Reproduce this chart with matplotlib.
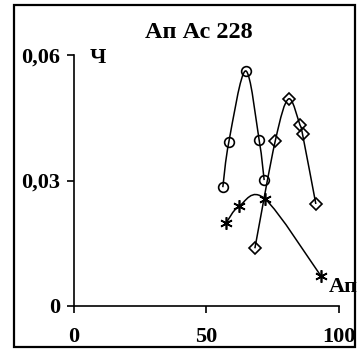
import matplotlib
matplotlib.use("Agg")
import matplotlib.pyplot as plt
from matplotlib.path import Path
from matplotlib.patches import PathPatch, Rectangle

# series values (x = percent, y = frequency)
circ_x = [56.2, 58.5, 64.8, 69.9, 71.8]
circ_y = [0.0284, 0.0393, 0.0562, 0.0397, 0.0301]

diam_x = [68.3, 76.0, 81.0, 85.3, 86.3, 91.3]
diam_y = [0.0138, 0.0395, 0.0495, 0.0433, 0.0410, 0.0244]

star_x = [57.4, 62.4, 72.1, 93.2]
star_y = [0.0198, 0.0239, 0.0256, 0.0072]

x_ticks = [0, 50, 100]
y_ticks = [0, 0.03, 0.06]
y_tick_labels = ["0", "0,03", "0,06"]

plt.rcParams["font.family"] = ["Liberation Serif", "DejaVu Serif"]
plt.rcParams["font.weight"] = "bold"
FS = 16


def smooth_path(xs, ys):
    # Catmull-Rom style smoothing turned into cubic Bezier segments
    pts = list(zip(xs, ys))
    n = len(pts)
    verts = [pts[0]]
    codes = [Path.MOVETO]
    for i in range(n - 1):
        p0 = pts[i - 1] if i > 0 else pts[i]
        p1 = pts[i]
        p2 = pts[i + 1]
        p3 = pts[i + 2] if i + 2 < n else pts[i + 1]
        c1 = (p1[0] + (p2[0] - p0[0]) / 6, p1[1] + (p2[1] - p0[1]) / 6)
        c2 = (p2[0] - (p3[0] - p1[0]) / 6, p2[1] - (p3[1] - p1[1]) / 6)
        verts += [c1, c2, p2]
        codes += [Path.CURVE4] * 3
    return Path(verts, codes)


fig = plt.figure(figsize=(3.64, 3.54), dpi=100)
ax = fig.add_axes([0.203, 0.1356, 0.728, 0.709])

for xs, ys, mk, ms in [(circ_x, circ_y, "o", 7),
                       (diam_x, diam_y, "D", 6),
                       (star_x, star_y, (6, 2, 0), 9)]:
    ax.add_patch(PathPatch(smooth_path(xs, ys), facecolor="none",
                           edgecolor="black", lw=1.1, zorder=2))
    ax.plot(xs, ys, linestyle="none", marker=mk, markersize=ms,
            markerfacecolor="none", markeredgecolor="black",
            markeredgewidth=1.2, zorder=3)

ax.set_xlim(0, 100)
ax.set_ylim(0, 0.06)
ax.set_xticks(x_ticks)
ax.set_yticks(y_ticks)
ax.set_yticklabels(y_tick_labels)
ax.tick_params(direction="out", length=5, width=1.2, labelsize=FS, pad=5)
ax.tick_params(axis="x", pad=10)
for lab in ax.get_xticklabels() + ax.get_yticklabels():
    lab.set_fontweight("bold")
ax.spines["top"].set_visible(False)
ax.spines["right"].set_visible(False)
ax.spines["left"].set_linewidth(1.2)
ax.spines["bottom"].set_linewidth(1.2)
ax.patch.set_visible(False)

fig.text(199 / 364, 1 - 33 / 354, "Ап Ас 228", ha="center", va="center",
         fontsize=17.5, fontweight="bold")
fig.text(98 / 364, 1 - 58 / 354, "Ч", ha="center", va="center",
         fontsize=FS, fontweight="bold")
fig.text(343 / 364, 1 - 287 / 354, "Ап", ha="center", va="center",
         fontsize=FS, fontweight="bold")

fig.patches.append(Rectangle((14 / 364, 1 - 347 / 354), 341 / 364, 342 / 354,
                             transform=fig.transFigure, fill=False,
                             edgecolor="black", lw=1.6))

fig.savefig("out.png", dpi=100)
